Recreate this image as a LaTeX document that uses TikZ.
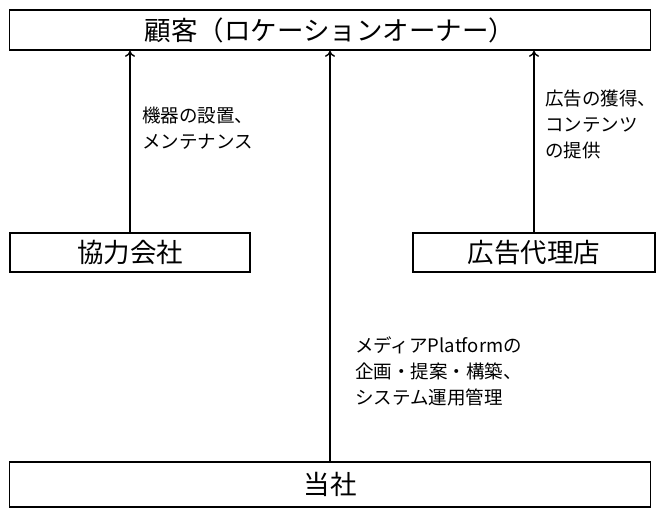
\documentclass[tikz,border=0pt]{standalone}
\usepackage{fontspec}
\setmainfont{Noto Sans CJK JP}
\usetikzlibrary{arrows.meta,positioning}

\tikzset{
  box/.style={draw, line width=1.6pt, inner sep=0pt, font=\fontsize{26.5}{30}\selectfont},
  lbl/.style={anchor=north west, align=left, inner sep=0pt, font=\fontsize{18.5}{26}\selectfont},
  flow/.style={line width=1.6pt, -{To[length=6pt,width=10pt,line width=1.4pt]}}
}

\begin{document}
\begin{tikzpicture}[x=1pt,y=-1pt]
    \useasboundingbox (0,0) rectangle (663,507);

    % Boxes
    \node[box, minimum width=641pt, minimum height=40pt] (kokyaku) at (330, 30) {顧客（ロケーションオーナー）};
    \node[box, minimum width=240pt, minimum height=39pt] (kyoryoku) at (130, 252.5) {協力会社};
    \node[box, minimum width=242pt, minimum height=39pt] (dairiten) at (534, 252.5) {広告代理店};
    \node[box, minimum width=641pt, minimum height=45pt] (tosha) at (330, 484.5) {当社};

    % Arrows
    \draw[flow] (kyoryoku.north) -- (kyoryoku.north |- kokyaku.south);
    \draw[flow] (dairiten.north) -- (dairiten.north |- kokyaku.south);
    \draw[flow] (tosha.north) -- (kokyaku.south);

    % Labels
    \node[lbl] (lbl1) at (142, 107) {機器の設置、\\メンテナンス};
    \node[lbl] (lbl2) at (545, 90) {広告の獲得、\\コンテンツ\\の提供};
    \node[lbl] (lbl3) at (355, 337) {メディアPlatformの\\企画・提案・構築、\\システム運用管理};
\end{tikzpicture}
\end{document}
